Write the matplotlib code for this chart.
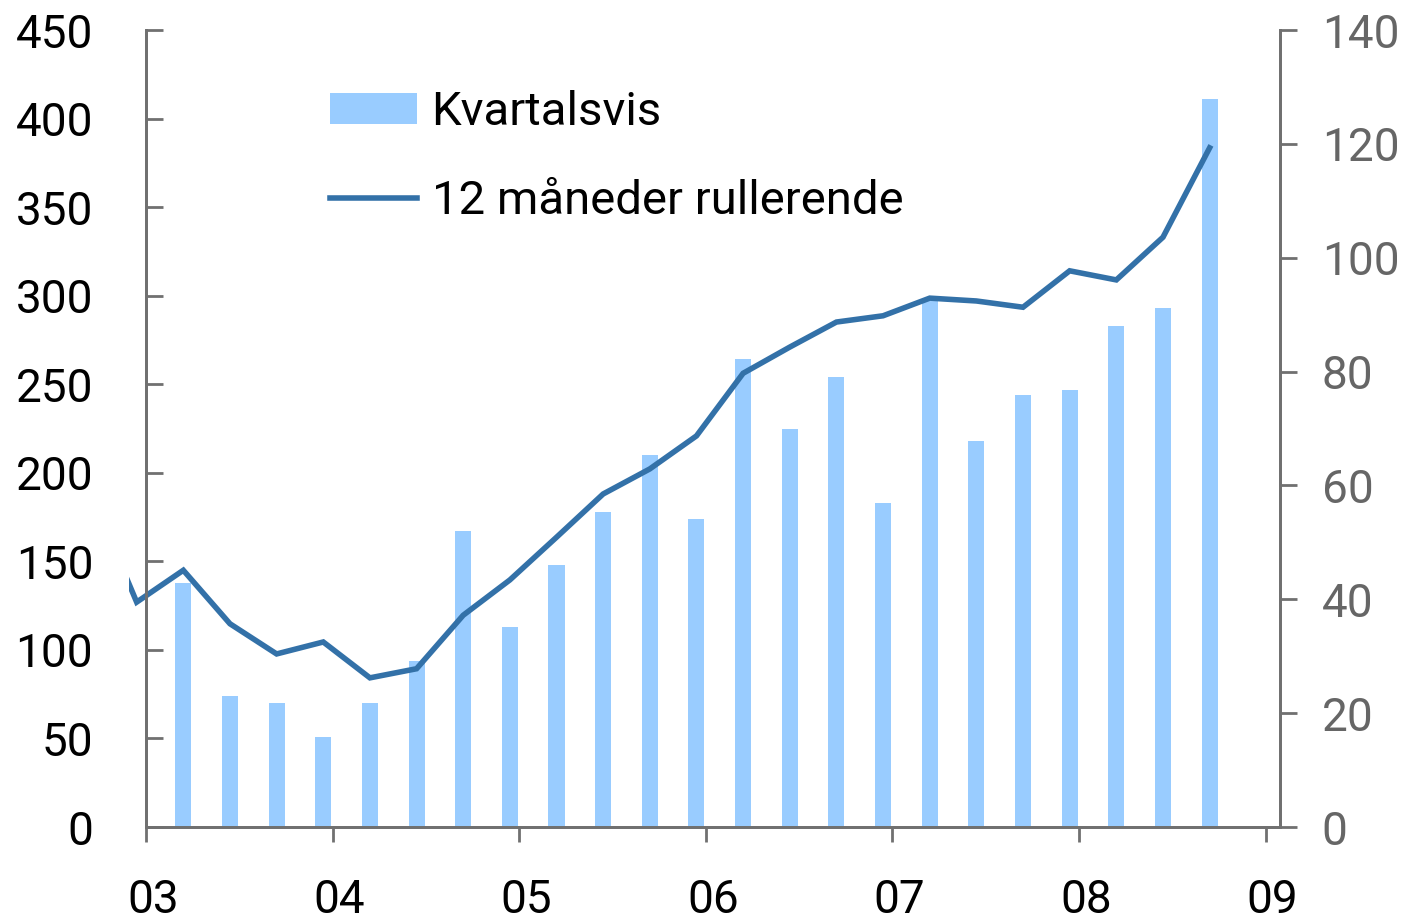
import numpy as np
import matplotlib.pyplot as plt
import matplotlib.transforms as mtransforms
from matplotlib.patches import Rectangle

plt.rcParams['font.family'] = ['Roboto', 'DejaVu Sans']

# quarters shown (year, quarter)
quarters = ['2002K3', '2002K4',
            '2003K1', '2003K2', '2003K3', '2003K4',
            '2004K1', '2004K2', '2004K3', '2004K4',
            '2005K1', '2005K2', '2005K3', '2005K4',
            '2006K1', '2006K2', '2006K3', '2006K4',
            '2007K1', '2007K2', '2007K3', '2007K4',
            '2008K1', '2008K2', '2008K3']

# Kvartalsvis (left axis)
kvartal = [np.nan, 32,
           138, 74, 70, 51,
           70, 94, 167, 113,
           148, 178, 210, 174,
           264, 225, 254, 183,
           297, 218, 244, 247,
           283, 293, 411]

# 12 maaneder rullerende (right axis)
rullerende = [59, 39.5,
              45.1, 35.7, 30.4, 32.5,
              26.2, 27.8, 37.2, 43.4,
              50.9, 58.5, 62.9, 68.7,
              79.7, 84.3, 88.7, 89.8,
              92.9, 92.4, 91.3, 97.7,
              96.1, 103.6, 119.3]

year_labels = ['03', '04', '05', '06', '07', '08', '09']

x = np.array([int(q[:4]) + 0.2 + 0.25 * (int(q[-1]) - 1) for q in quarters])

bar_col = '#99CCFF'
line_col = '#3371A8'
grey = '#707070'

fig = plt.figure(figsize=(14.05, 9.22), dpi=100)
ax = fig.add_axes([146 / 1405, 95 / 922, 1134 / 1405, 797 / 922])
ax2 = ax.twinx()

bars = ax.bar(x, kvartal, width=0.086, color=bar_col, label='Kvartalsvis')
line, = ax2.plot(x, rullerende, color=line_col, lw=4,
                 solid_joinstyle='miter', label='12 måneder rullerende')
clip = Rectangle((-0.015, -0.05), 1.03, 1.1, transform=ax2.transAxes)
line.set_clip_path(clip)

ax.set_xlim(2003, 2003 + 1134 / 186.6)
ax.set_ylim(0, 450)
ax2.set_ylim(0, 140)

ax.set_xticks(range(2003, 2010))
ax.set_xticklabels(year_labels)
ax.set_yticks(range(0, 451, 50))
ax2.set_yticks(range(0, 141, 20))

for a in (ax, ax2):
    for s in a.spines.values():
        s.set_color(grey)
        s.set_linewidth(2)
    a.spines['top'].set_visible(False)

ax.tick_params(axis='y', direction='in', length=12, width=2, color=grey,
               labelsize=33, pad=38, labelcolor='black')
ax.tick_params(axis='x', direction='out', length=11, width=2, color=grey,
               labelsize=33, pad=26, labelcolor='black')
ax2.tick_params(axis='y', direction='out', length=12, width=2, color=grey,
                labelsize=33, pad=18, labelcolor='#666666')

shift = mtransforms.ScaledTranslation(7 / 100, 0, fig.dpi_scale_trans)
for t in ax.get_xticklabels():
    t.set_transform(t.get_transform() + shift)

leg = ax2.legend([bars, line], ['Kvartalsvis', '12 måneder rullerende'],
                 loc='upper left', bbox_to_anchor=(184 / 1134, 0.925),
                 frameon=False, fontsize=34, handlelength=1.85,
                 handleheight=0.63, handletextpad=0.3, labelspacing=0.95,
                 borderpad=0, borderaxespad=0)

fig.savefig('out.png', dpi=100)
